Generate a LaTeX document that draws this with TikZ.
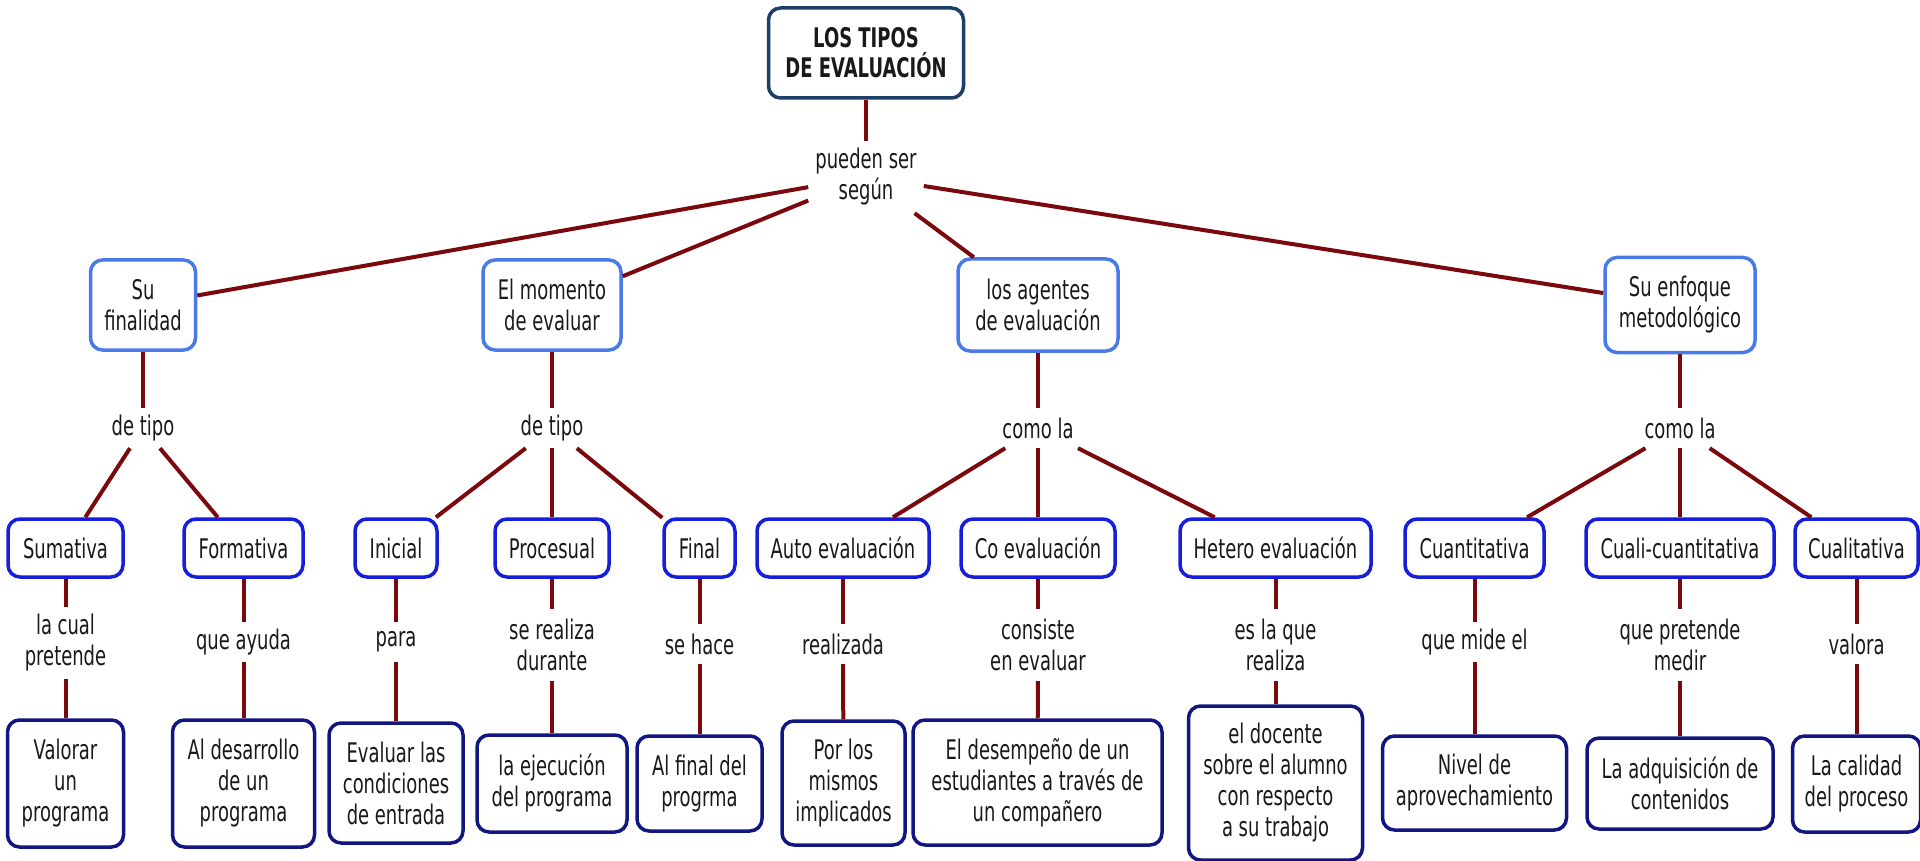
\documentclass[tikz,border=0pt]{standalone}
\usepackage{fontspec}
\setmainfont{DejaVu Sans}[FakeStretch=0.665]
\definecolor{rootc}{RGB}{28,62,105}
\definecolor{lonec}{RGB}{72,122,232}
\definecolor{lthreec}{RGB}{22,30,220}
\definecolor{lfivec}{RGB}{18,22,128}
\definecolor{linec}{RGB}{122,8,12}
\definecolor{txt}{RGB}{25,25,25}
\begin{document}
\begin{tikzpicture}[x=1pt,y=-1pt,
  every node/.style={font=\fontsize{27}{31}\selectfont, align=center, text=txt},
  sz/.style 2 args={minimum width=#1pt, minimum height=#2pt},
  box/.style={draw, rounded corners=12pt, line width=3.5pt, fill=white, inner sep=0pt},
  rootbox/.style={box, draw=rootc, font=\fontsize{27}{30}\selectfont\bfseries},
  lvlone/.style={box, draw=lonec},
  lvlthree/.style={box, draw=lthreec},
  lvlfive/.style={box, draw=lfivec},
  lbl/.style={inner xsep=7pt, inner ysep=0pt},
  lblone/.style={lbl, minimum height=40pt},
  lbltwo/.style={lbl, minimum height=72pt},
  conn/.style={draw=linec, line width=4pt},
]
\useasboundingbox[fill=white] (0,0) rectangle (1920,861);

% root and first link word
\node[rootbox, sz={195}{90}] (root) at (866,53) {LOS TIPOS\\DE EVALUACIÓN};
\node[lbltwo] (pueden) at (866,177) {pueden ser\\según};

% level 1
\node[lvlone, sz={105}{90}] (fin) at (143,305) {Su\\finalidad};
\node[lvlone, sz={138}{90}] (mom) at (552,305) {El momento\\de evaluar};
\node[lvlone, sz={160}{92}] (age) at (1038,305) {los agentes\\de evaluación};
\node[lvlone, sz={150}{95}] (enf) at (1680,305) {Su enfoque\\metodológico};

% level 2 labels
\node[lblone] (lfin) at (143,428) {de tipo};
\node[lblone] (lmom) at (552,428) {de tipo};
\node[lblone] (lage) at (1038,428) {como la};
\node[lblone] (lenf) at (1680,428) {como la};

% level 3
\node[lvlthree, sz={115}{58}] (sum) at (65.5,548) {Sumativa};
\node[lvlthree, sz={119}{58}] (form) at (243.5,548) {Formativa};
\node[lvlthree, sz={82}{58}] (ini) at (396,548) {Inicial};
\node[lvlthree, sz={114}{58}] (proc) at (552,548) {Procesual};
\node[lvlthree, sz={71}{58}] (fnl) at (699.5,548) {Final};
\node[lvlthree, sz={172}{58}] (auto) at (843,548) {Auto evaluación};
\node[lvlthree, sz={154}{58}] (co) at (1038,548) {Co evaluación};
\node[lvlthree, sz={191}{58}] (het) at (1275.5,548) {Hetero evaluación};
\node[lvlthree, sz={139}{58}] (cuan) at (1474.5,548) {Cuantitativa};
\node[lvlthree, sz={188}{58}] (cuali) at (1680,548) {Cuali-cuantitativa};
\node[lvlthree, sz={123}{58}] (cual) at (1856.5,548) {Cualitativa};

% level 4 labels
\node[lbltwo] (lsum) at (65.5,643) {la cual\\pretende};
\node[lblone] (lform) at (243.5,642) {que ayuda};
\node[lblone] (lini) at (396,642) {para};
\node[lbltwo] (lproc) at (552,645) {se realiza\\durante};
\node[lblone] (lfnl) at (699.5,644) {se hace};
\node[lblone] (lauto) at (843,644) {realizada};
\node[lbltwo] (lco) at (1038,645) {consiste\\en evaluar};
\node[lbltwo] (lhet) at (1275.5,645) {es la que\\realiza};
\node[lblone] (lcuan) at (1474.5,642) {que mide el};
\node[lbltwo] (lcuali) at (1680,645) {que pretende\\medir};
\node[lblone] (lcual) at (1856.5,644) {valora};

% level 5
\node[lvlfive, sz={116}{127}] (vsum) at (65.5,783.5) {Valorar\\un\\programa};
\node[lvlfive, sz={142}{127}] (vform) at (243.5,783.5) {Al desarrollo\\de un\\programa};
\node[lvlfive, sz={134}{120}] (vini) at (396,783) {Evaluar las\\condiciones\\de entrada};
\node[lvlfive, sz={150}{97}] (vproc) at (552,783.5) {la ejecución\\del programa};
\node[lvlfive, sz={125}{95}] (vfnl) at (699.5,783.5) {Al final del\\progrma};
\node[lvlfive, sz={123}{124}] (vauto) at (843.5,783) {Por los\\mismos\\implicados};
\node[lvlfive, sz={249}{125}] (vco) at (1037.5,782.5) {El desempeño de un\\estudiantes a través de\\un compañero};
\node[lvlfive, sz={174}{154}] (vhet) at (1275.5,783) {el docente\\sobre el alumno\\con respecto\\a su trabajo};
\node[lvlfive, sz={184}{94}] (vcuan) at (1474.5,783) {Nivel de\\aprovechamiento};
\node[lvlfive, sz={186}{91}] (vcuali) at (1680,783.5) {La adquisición de\\contenidos};
\node[lvlfive, sz={128}{96}] (vcual) at (1856.5,784) {La calidad\\del proceso};

% connectors
\draw[conn] (root) -- (pueden);
\foreach \n in {fin,mom,age,enf} \draw[conn] (pueden) -- (\n);
\draw[conn] (fin) -- (lfin);
\draw[conn] (mom) -- (lmom);
\draw[conn] (age) -- (lage);
\draw[conn] (enf) -- (lenf);
\foreach \n in {sum,form} \draw[conn] (lfin) -- (\n);
\foreach \n in {ini,proc,fnl} \draw[conn] (lmom) -- (\n);
\foreach \n in {auto,co,het} \draw[conn] (lage) -- (\n);
\foreach \n in {cuan,cuali,cual} \draw[conn] (lenf) -- (\n);
\foreach \n in {sum,form,ini,proc,fnl,auto,co,het,cuan,cuali,cual} {
  \draw[conn] (\n) -- (l\n);
  \draw[conn] (l\n) -- (v\n);
}
\end{tikzpicture}
\end{document}
